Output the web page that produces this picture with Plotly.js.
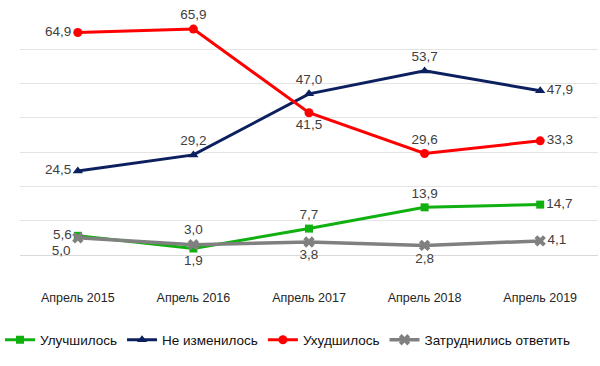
<!DOCTYPE html>
<html><head><meta charset="utf-8">
<script src="https://cdn.plot.ly/plotly-3.0.1.min.js"></script>
<style>html,body{margin:0;padding:0;background:#fff}#c{width:600px;height:366px}</style>
</head><body><div id="c"></div>
<script>
const categories = ["Апрель 2015","Апрель 2016","Апрель 2017","Апрель 2018","Апрель 2019"];
const improved = [5.6, 1.9, 7.7, 13.9, 14.7];
const unchanged = [24.5, 29.2, 47.0, 53.7, 47.9];
const worsened = [64.9, 65.9, 41.5, 29.6, 33.3];
const hardToSay = [5.0, 3.0, 3.8, 2.8, 4.1];
const names = ["Улучшилось","Не изменилось","Ухудшилось","Затруднились ответить"];

const labelFont = {family:"Liberation Sans, Arial, sans-serif", size:13.5, color:"#404040"};
function tr(y, name, color, symbol, msize, lw, pos){
  return {x:categories, y:y, name:name, type:"scatter", mode:"lines+markers+text",
    line:{color:color, width:lw}, marker:{color:color, symbol:symbol, size:msize, line:{width:0}},
    texttemplate:"%{y:.1f}", textposition:pos, textfont:labelFont, cliponaxis:false, hoverinfo:"skip"};
}
const data = [
  tr(improved, names[0], "#11b011", "square", 8, 3, ["middle left","bottom center","top center","top center","middle right"]),
  tr(unchanged, names[1], "#0c1f5e", "triangle-up", 9, 3, ["middle left","top center","top center","top center","middle right"]),
  tr(worsened, names[2], "#ff0000", "circle", 9, 3, ["middle left","top center","bottom center","top center","middle right"]),
  tr(hardToSay, names[3], "#808080", "x", 10, 3.5, ["bottom left","top center","bottom center","bottom center","middle right"])
];
const layout = {
  width:600, height:366, margin:{l:20, r:2, t:15, b:110.5, autoexpand:false},
  paper_bgcolor:"#fff", plot_bgcolor:"#fff",
  separators:",.",
  showlegend:true,
  xaxis:{type:"category", range:[-0.5,4.5], showgrid:false, zeroline:false, showline:false, ticks:"", automargin:false,
    tickfont:{family:"Liberation Sans, Arial, sans-serif", size:12.5, color:"#262626"}, ticklabelstandoff:33, fixedrange:true},
  yaxis:{range:[0,70], dtick:10, showgrid:true, gridcolor:"#e4e4e4", gridwidth:1, zeroline:true, zerolinecolor:"#d9d9d9", zerolinewidth:1,
    showticklabels:false, ticks:"", showline:false, fixedrange:true, automargin:false},
  legend:{orientation:"h", xref:"container", yref:"container", x:0, xanchor:"left", y:0.1134, yanchor:"top",
    font:{family:"Liberation Sans, Arial, sans-serif", size:13.5, color:"#111"}, itemwidth:30, tracegroupgap:0},
  font:{family:"Liberation Sans, Arial, sans-serif"}
};
Plotly.newPlot("c", data, layout, {displayModeBar:false, staticPlot:true});
</script></body></html>
